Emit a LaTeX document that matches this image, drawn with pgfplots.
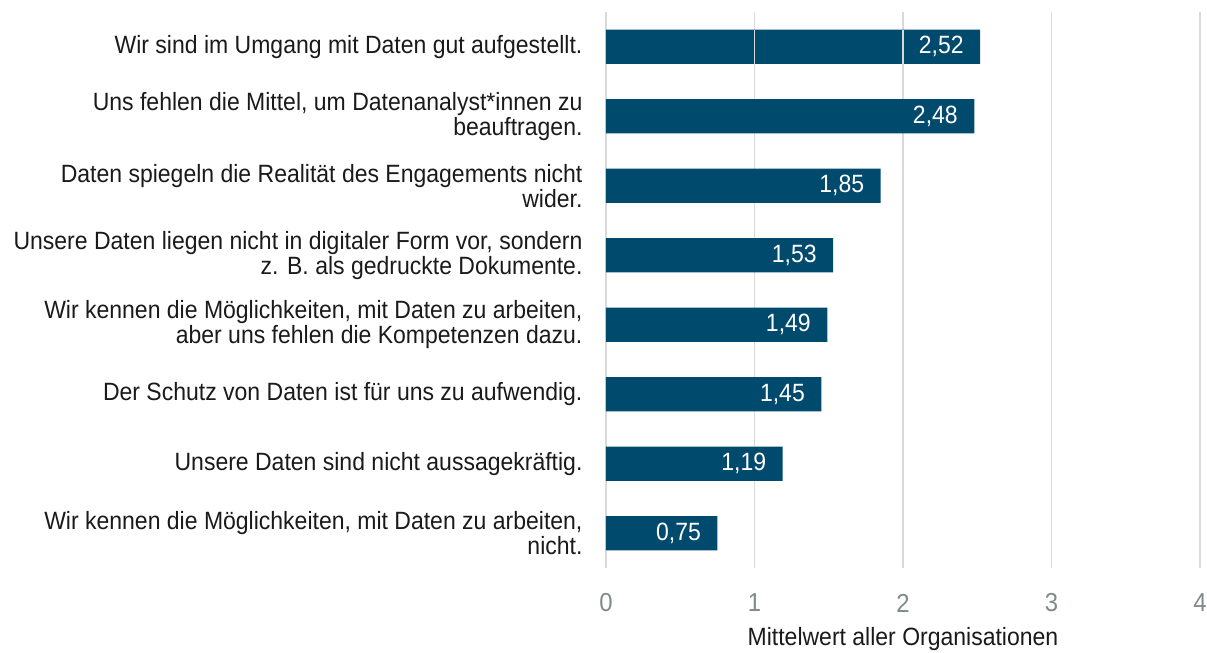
\documentclass[border=0pt]{standalone}
\usepackage{pgfplots}
\pgfplotsset{compat=1.18}
\usepackage{fontspec}
\setmainfont[FakeStretch=0.92]{Liberation Sans}
\definecolor{barblue}{HTML}{004A6E}
\definecolor{gridgray}{HTML}{D9D9D9}
\definecolor{tickgray}{HTML}{7F8A8A}
\definecolor{txt}{HTML}{1A1A1A}
\begin{document}
\begin{tikzpicture}
\begin{axis}[
  scale only axis,
  width=594bp, height=556bp,
  xmin=0, xmax=4, ymin=-0.5, ymax=7.5,
  axis line style={draw=none},
  xbar, bar width=0.49,
  xtick={0,1,2,3,4},
  ytick={0,...,7},
  xmajorgrids=true,
  grid style={gridgray, line width=1.5bp},
  major tick length=0pt,
  tick style={draw=none},
  /pgf/number format/assume math mode=true,
  xticklabel style={font=\fontsize{26bp}{28bp}\selectfont, color=tickgray, anchor=center, yshift=-35bp},
  yticklabel style={font=\fontsize{25bp}{25bp}\selectfont, color=txt, align=right, anchor=east, xshift=-20bp},
  yticklabels={
    {Wir kennen die Möglichkeiten, mit Daten zu arbeiten,\\nicht.},
    {Unsere Daten sind nicht aussagekräftig.},
    {Der Schutz von Daten ist für uns zu aufwendig.},
    {Wir kennen die Möglichkeiten, mit Daten zu arbeiten,\\aber uns fehlen die Kompetenzen dazu.},
    {Unsere Daten liegen nicht in digitaler Form vor, sondern\\z. B. als gedruckte Dokumente.},
    {Daten spiegeln die Realität des Engagements nicht\\wider.},
    {Uns fehlen die Mittel, um Datenanalyst*innen zu\\beauftragen.},
    {Wir sind im Umgang mit Daten gut aufgestellt.}
  },
  xlabel={Mittelwert aller Organisationen},
  xlabel style={font=\fontsize{25bp}{28bp}\selectfont, color=txt, at={(axis description cs:0.5,0)}, anchor=center, yshift=-71bp},
  nodes near coords,
  point meta=x,
  nodes near coords style={font=\fontsize{25bp}{26bp}\selectfont, color=white, anchor=east, xshift=-13bp,
    /pgf/number format/.cd, fixed, fixed zerofill, precision=2, use comma, assume math mode=true},
  clip=false,
]
\addplot[fill=barblue, draw=none] coordinates {
  (0.75,0) (1.19,1) (1.45,2) (1.49,3) (1.53,4) (1.85,5) (2.48,6) (2.52,7)
};
\draw[color=gridgray, line width=1.5bp] (axis cs:1,6.755) -- (axis cs:1,7.245);
\draw[color=gridgray, line width=1.5bp] (axis cs:2,6.755) -- (axis cs:2,7.245);
\coordinate (o) at (axis cs:0,-0.5);
\end{axis}
\pgfresetboundingbox
\path ([shift={(-606bp,-85bp)}]o) rectangle ([shift={(601bp,568bp)}]o);
\end{tikzpicture}
\end{document}
